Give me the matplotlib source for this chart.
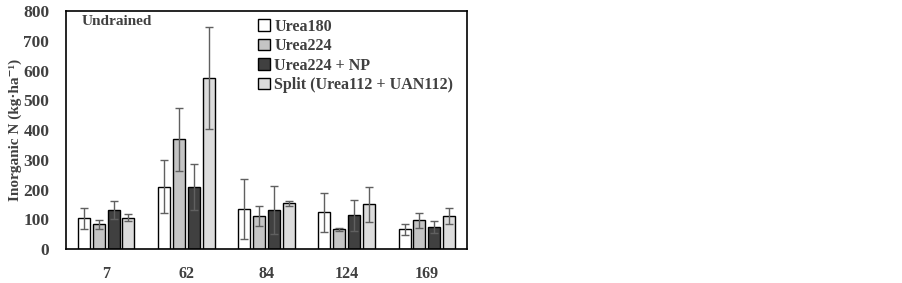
import matplotlib.pyplot as plt
import numpy as np

plt.rcParams['font.family'] = ['Liberation Serif', 'DejaVu Serif']
plt.rcParams['font.weight'] = 'bold'

days = ['7', '62', '84', '124', '169']
series = ['Urea180', 'Urea224', 'Urea224 + NP', 'Split (Urea112 + UAN112)']

urea180 = [103, 209, 134, 123, 66]
urea180_err = [36, 89, 100, 66, 18]
urea224 = [83, 369, 111, 66, 96]
urea224_err = [16, 106, 32, 4, 24]
urea224_np = [131, 209, 131, 114, 75]
urea224_np_err = [29, 77, 80, 52, 20]
split = [106, 575, 154, 150, 111]
split_err = [13, 171, 8, 60, 26]

values = [urea180, urea224, urea224_np, split]
errors = [urea180_err, urea224_err, urea224_np_err, split_err]
colors = ['#ffffff', '#c4c4c4', '#404040', '#dcdcdc']

txt = '#404040'

fig = plt.figure(figsize=(9.02, 2.83), dpi=100)
ax = fig.add_axes([0.0732, 0.120, 0.4445, 0.841])

x = np.arange(len(days))
step = 0.185
for i, (vals, errs) in enumerate(zip(values, errors)):
    pos = x + (i - 1.5) * step
    ax.bar(pos, vals, width=0.15, color=colors[i], edgecolor='black', linewidth=1.0,
           label=series[i], zorder=2)
    ax.errorbar(pos, vals, yerr=errs, fmt='none', ecolor='#606060', elinewidth=1.0,
                capsize=2.8, capthick=1.0, zorder=3)

ax.set_xlim(-0.5, len(days) - 0.5)
ax.set_ylim(0, 800)
ax.set_yticks(range(0, 801, 100))
ax.set_xticks(x)
ax.set_xticklabels(days)
ax.tick_params(axis='both', length=0, labelcolor=txt)
ax.tick_params(axis='x', pad=12, labelsize=11.5)
ax.tick_params(axis='y', pad=12, labelsize=12.5)
for lab in ax.get_xticklabels() + ax.get_yticklabels():
    lab.set_fontweight('bold')
for s in ax.spines.values():
    s.set_linewidth(1.2)
    s.set_color('black')

ax.set_ylabel('Inorganic N (kg\u00b7ha\u207b\u00b9)', fontsize=11, color=txt, fontweight='bold', labelpad=1)
ax.text(0.04, 0.955, 'Undrained', transform=ax.transAxes, fontsize=11, color=txt,
        fontweight='bold', va='center', ha='left')

leg = ax.legend(loc='upper left', bbox_to_anchor=(0.452, 1.015), frameon=False, fontsize=11.5,
                handlelength=0.75, handleheight=0.75, handletextpad=0.25, labelspacing=0.22,
                borderaxespad=0.3)
for t in leg.get_texts():
    t.set_color(txt)
    t.set_fontweight('bold')

fig.savefig('out.png', dpi=100)
